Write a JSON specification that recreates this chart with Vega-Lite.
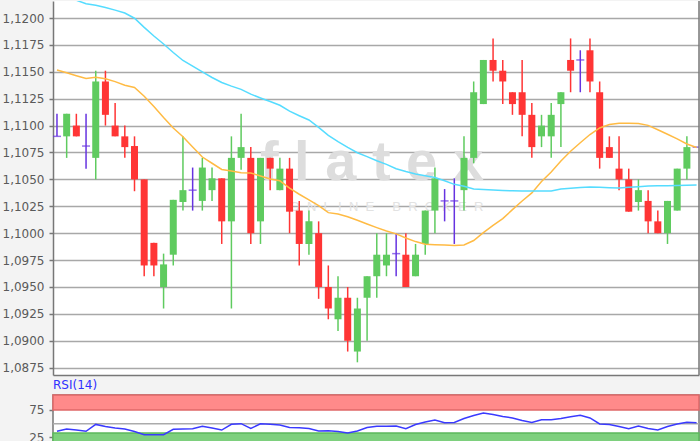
{
  "$schema": "https://vega.github.io/schema/vega-lite/v6.json",
  "padding": 0,
  "background": "#f3f3f3",
  "spacing": 2,
  "config": {
    "view": {"fill": "white", "stroke": "#777777", "strokeWidth": 1.5},
    "scale": {"continuousPadding": 0},
    "axis": {"labelFont": "DejaVu Sans", "labelFontSize": 12, "labelColor": "#5a5a5a", "domainColor": "#777777", "domainWidth": 1.5, "tickColor": "#777777", "tickWidth": 1.5, "tickSize": 4, "labelPadding": 5, "gridColor": "#a8a8a8", "gridWidth": 1.5, "title": null, "labelOverlap": false},
    "axisX": {"labels": false, "ticks": false, "grid": false, "domain": true, "minExtent": 0, "maxExtent": 0}
  },
  "datasets": {
    "c": [
      {"i":1,"o":1.1090,"h":1.1111,"l":1.1090,"c":1.1090,"rsi":36.2,"m20":1.11517,"m50":null},
      {"i":2,"o":1.1090,"h":1.1111,"l":1.1070,"c":1.1111,"rsi":40.5,"m20":1.11491,"m50":null},
      {"i":3,"o":1.1100,"h":1.1111,"l":1.1090,"c":1.1090,"rsi":38.5,"m20":1.11464,"m50":1.12165},
      {"i":4,"o":1.1081,"h":1.1111,"l":1.1060,"c":1.1081,"rsi":36.2,"m20":1.11438,"m50":1.12133},
      {"i":5,"o":1.1070,"h":1.1151,"l":1.1050,"c":1.1141,"rsi":48.7,"m20":1.11449,"m50":1.12119},
      {"i":6,"o":1.1141,"h":1.1151,"l":1.1100,"c":1.1110,"rsi":44.9,"m20":1.11436,"m50":1.12098},
      {"i":7,"o":1.1100,"h":1.1121,"l":1.1090,"c":1.1090,"rsi":42.2,"m20":1.11409,"m50":1.12073},
      {"i":8,"o":1.1090,"h":1.1100,"l":1.1070,"c":1.1080,"rsi":40.4,"m20":1.11375,"m50":1.12046},
      {"i":9,"o":1.1081,"h":1.1090,"l":1.1039,"c":1.1050,"rsi":35.8,"m20":1.11354,"m50":1.11998},
      {"i":10,"o":1.1050,"h":1.1050,"l":1.0960,"c":1.0970,"rsi":30.0,"m20":1.11273,"m50":1.11913},
      {"i":11,"o":1.0991,"h":1.0991,"l":1.0960,"c":1.0970,"rsi":30.0,"m20":1.11177,"m50":1.11833},
      {"i":12,"o":1.0950,"h":1.0981,"l":1.0930,"c":1.0971,"rsi":30.0,"m20":1.11075,"m50":1.11758},
      {"i":13,"o":1.0980,"h":1.1031,"l":1.0970,"c":1.1031,"rsi":39.8,"m20":1.10978,"m50":1.11679},
      {"i":14,"o":1.1029,"h":1.1090,"l":1.1021,"c":1.1040,"rsi":40.4,"m20":1.10896,"m50":1.11605},
      {"i":15,"o":1.1040,"h":1.1061,"l":1.1021,"c":1.1040,"rsi":40.9,"m20":1.10801,"m50":1.11552},
      {"i":16,"o":1.1030,"h":1.1070,"l":1.1021,"c":1.1061,"rsi":45.5,"m20":1.10708,"m50":1.11500},
      {"i":17,"o":1.1040,"h":1.1061,"l":1.1030,"c":1.1051,"rsi":42.2,"m20":1.10650,"m50":1.11447},
      {"i":18,"o":1.1051,"h":1.1051,"l":1.0990,"c":1.1011,"rsi":38.5,"m20":1.10592,"m50":1.11401},
      {"i":19,"o":1.1011,"h":1.1090,"l":1.0930,"c":1.1070,"rsi":48.9,"m20":1.10578,"m50":1.11367},
      {"i":20,"o":1.1070,"h":1.1111,"l":1.1059,"c":1.1080,"rsi":50.0,"m20":1.10562,"m50":1.11337},
      {"i":21,"o":1.1070,"h":1.1080,"l":1.0990,"c":1.1000,"rsi":41.3,"m20":1.10560,"m50":1.11292},
      {"i":22,"o":1.1011,"h":1.1070,"l":1.0990,"c":1.1070,"rsi":49.8,"m20":1.10532,"m50":1.11257},
      {"i":23,"o":1.1070,"h":1.1070,"l":1.1040,"c":1.1060,"rsi":48.9,"m20":1.10504,"m50":1.11224},
      {"i":24,"o":1.1040,"h":1.1070,"l":1.1040,"c":1.1060,"rsi":47.6,"m20":1.10487,"m50":1.11189},
      {"i":25,"o":1.1060,"h":1.1070,"l":1.1000,"c":1.1020,"rsi":43.3,"m20":1.10418,"m50":1.11134},
      {"i":26,"o":1.1021,"h":1.1030,"l":1.0970,"c":1.0990,"rsi":42.5,"m20":1.10362,"m50":1.11092},
      {"i":27,"o":1.0990,"h":1.1021,"l":1.0980,"c":1.1011,"rsi":41.3,"m20":1.10310,"m50":1.11052},
      {"i":28,"o":1.1000,"h":1.1011,"l":1.0939,"c":1.0950,"rsi":36.7,"m20":1.10256,"m50":1.10984},
      {"i":29,"o":1.0950,"h":1.0970,"l":1.0920,"c":1.0930,"rsi":37.3,"m20":1.10191,"m50":1.10910},
      {"i":30,"o":1.0920,"h":1.0960,"l":1.0909,"c":1.0940,"rsi":35.8,"m20":1.10178,"m50":1.10850},
      {"i":31,"o":1.0940,"h":1.0950,"l":1.0890,"c":1.0900,"rsi":33.1,"m20":1.10153,"m50":1.10797},
      {"i":32,"o":1.0890,"h":1.0940,"l":1.0880,"c":1.0930,"rsi":36.7,"m20":1.10120,"m50":1.10748},
      {"i":33,"o":1.0940,"h":1.0960,"l":1.0900,"c":1.0960,"rsi":43.1,"m20":1.10086,"m50":1.10712},
      {"i":34,"o":1.0960,"h":1.1000,"l":1.0940,"c":1.0980,"rsi":45.3,"m20":1.10052,"m50":1.10673},
      {"i":35,"o":1.0970,"h":1.1000,"l":1.0960,"c":1.0980,"rsi":45.5,"m20":1.10020,"m50":1.10640},
      {"i":36,"o":1.0981,"h":1.1000,"l":1.0960,"c":1.0981,"rsi":45.8,"m20":1.09994,"m50":1.10599},
      {"i":37,"o":1.0980,"h":1.1000,"l":1.0950,"c":1.0950,"rsi":40.9,"m20":1.09955,"m50":1.10573},
      {"i":38,"o":1.0960,"h":1.0990,"l":1.0960,"c":1.0980,"rsi":48.5,"m20":1.09922,"m50":1.10550},
      {"i":39,"o":1.0990,"h":1.1021,"l":1.0980,"c":1.1021,"rsi":53.1,"m20":1.09897,"m50":1.10533},
      {"i":40,"o":1.1021,"h":1.1061,"l":1.1000,"c":1.1051,"rsi":56.7,"m20":1.09893,"m50":1.10518},
      {"i":41,"o":1.1030,"h":1.1041,"l":1.1011,"c":1.1030,"rsi":51.8,"m20":1.09890,"m50":1.10487},
      {"i":42,"o":1.1030,"h":1.1051,"l":1.0990,"c":1.1030,"rsi":52.2,"m20":1.09885,"m50":1.10454},
      {"i":43,"o":1.1040,"h":1.1090,"l":1.1021,"c":1.1070,"rsi":59.5,"m20":1.09890,"m50":1.10436},
      {"i":44,"o":1.1070,"h":1.1141,"l":1.1065,"c":1.1131,"rsi":64.9,"m20":1.09932,"m50":1.10411},
      {"i":45,"o":1.1120,"h":1.1161,"l":1.1120,"c":1.1161,"rsi":69.5,"m20":1.10005,"m50":1.10406},
      {"i":46,"o":1.1161,"h":1.1181,"l":1.1141,"c":1.1151,"rsi":66.7,"m20":1.10073,"m50":1.10401},
      {"i":47,"o":1.1151,"h":1.1161,"l":1.1120,"c":1.1141,"rsi":63.1,"m20":1.10135,"m50":1.10397},
      {"i":48,"o":1.1131,"h":1.1131,"l":1.1110,"c":1.1120,"rsi":60.4,"m20":1.10219,"m50":1.10394},
      {"i":49,"o":1.1131,"h":1.1161,"l":1.1090,"c":1.1110,"rsi":55.8,"m20":1.10299,"m50":1.10392},
      {"i":50,"o":1.1110,"h":1.1121,"l":1.1070,"c":1.1080,"rsi":52.2,"m20":1.10374,"m50":1.10392},
      {"i":51,"o":1.1090,"h":1.1110,"l":1.1080,"c":1.1100,"rsi":57.3,"m20":1.10481,"m50":1.10392},
      {"i":52,"o":1.1090,"h":1.1121,"l":1.1070,"c":1.1110,"rsi":57.3,"m20":1.10569,"m50":1.10392},
      {"i":53,"o":1.1120,"h":1.1131,"l":1.1080,"c":1.1131,"rsi":59.5,"m20":1.10671,"m50":1.10411},
      {"i":54,"o":1.1161,"h":1.1181,"l":1.1131,"c":1.1151,"rsi":62.7,"m20":1.10761,"m50":1.10417},
      {"i":55,"o":1.1161,"h":1.1170,"l":1.1131,"c":1.1161,"rsi":65.3,"m20":1.10840,"m50":1.10424},
      {"i":56,"o":1.1170,"h":1.1181,"l":1.1131,"c":1.1141,"rsi":60.4,"m20":1.10917,"m50":1.10429},
      {"i":57,"o":1.1131,"h":1.1141,"l":1.1060,"c":1.1070,"rsi":49.5,"m20":1.10978,"m50":1.10427},
      {"i":58,"o":1.1080,"h":1.1090,"l":1.1070,"c":1.1070,"rsi":48.4,"m20":1.11010,"m50":1.10423},
      {"i":59,"o":1.1060,"h":1.1090,"l":1.1040,"c":1.1050,"rsi":44.9,"m20":1.11021,"m50":1.10420},
      {"i":60,"o":1.1050,"h":1.1060,"l":1.1020,"c":1.1020,"rsi":40.9,"m20":1.11021,"m50":1.10427},
      {"i":61,"o":1.1029,"h":1.1050,"l":1.1021,"c":1.1040,"rsi":45.8,"m20":1.11020,"m50":1.10432},
      {"i":62,"o":1.1030,"h":1.1040,"l":1.1000,"c":1.1011,"rsi":41.3,"m20":1.11002,"m50":1.10439},
      {"i":63,"o":1.1011,"h":1.1021,"l":1.1000,"c":1.1000,"rsi":38.5,"m20":1.10961,"m50":1.10441},
      {"i":64,"o":1.1000,"h":1.1030,"l":1.0990,"c":1.1030,"rsi":44.9,"m20":1.10920,"m50":1.10442},
      {"i":65,"o":1.1021,"h":1.1060,"l":1.1021,"c":1.1060,"rsi":49.5,"m20":1.10876,"m50":1.10444},
      {"i":66,"o":1.1060,"h":1.1090,"l":1.1050,"c":1.1080,"rsi":52.7,"m20":1.10829,"m50":1.10446},
      {"i":67,"o":1.1080,"h":1.1080,"l":1.1080,"c":1.1080,"rsi":51.8,"m20":1.10796,"m50":1.10448}
    ]
  },
  "vconcat": [
    {
      "width": 646,
      "height": 374,
      "view": {"stroke": null},
      "data": {"name": "c"},
      "layer": [
        {
          "data": {"values": [{}]},
          "mark": {"type": "text", "text": "f\u00a0l\u00a0a\u00a0t\u00a0e\u00a0x", "font": "Liberation Sans", "fontWeight": "bold", "fontSize": 56, "color": "#dddddd", "align": "center", "baseline": "alphabetic"},
          "encoding": {
            "x": {"datum": 33.5, "type": "quantitative", "scale": {"domain": [0.59, 67.25], "nice": false, "zero": false, "padding": 0}},
            "y": {"datum": 1.1049, "type": "quantitative", "scale": {"domain": [1.08682, 1.12158], "nice": false, "zero": false, "padding": 0}, "axis": {"orient": "left", "values": [1.0875, 1.09, 1.0925, 1.095, 1.0975, 1.1, 1.1025, 1.105, 1.1075, 1.11, 1.1125, 1.115, 1.1175, 1.12], "tickCount": 30, "labelExpr": "replace(format(datum.value, '.4f'), '.', ',')", "labelOverlap": false, "grid": true, "domain": true, "ticks": true, "minExtent": 52, "maxExtent": 52}}
          }
        },
        {
          "data": {"values": [{}]},
          "mark": {"type": "text", "text": "O\u00a0\u00a0N\u00a0\u00a0L\u00a0\u00a0I\u00a0\u00a0N\u00a0\u00a0E\u00a0\u00a0\u00a0\u00a0\u00a0B\u00a0\u00a0R\u00a0\u00a0O\u00a0\u00a0K\u00a0\u00a0E\u00a0\u00a0R", "font": "Liberation Sans", "fontSize": 13, "color": "#e2e2e2", "align": "center", "baseline": "alphabetic"},
          "encoding": {
            "x": {"datum": 35.0, "type": "quantitative"},
            "y": {"datum": 1.1021, "type": "quantitative"}
          }
        },
        {
          "mark": {"type": "rule", "strokeWidth": 1.5, "clip": true},
          "encoding": {
            "x": {"field": "i", "type": "quantitative"},
            "y": {"field": "l", "type": "quantitative"},
            "y2": {"field": "h"},
            "color": {"condition": [{"test": "datum.c > datum.o", "value": "#5fcb5f"}, {"test": "datum.c < datum.o", "value": "#ff3535"}], "value": "#6633e0"}
          }
        },
        {
          "transform": [{"filter": "datum.o != datum.c"}],
          "mark": {"type": "bar", "width": 7, "clip": true},
          "encoding": {
            "x": {"field": "i", "type": "quantitative"},
            "y": {"field": "o", "type": "quantitative"},
            "y2": {"field": "c"},
            "color": {"condition": [{"test": "datum.c > datum.o", "value": "#5fcb5f"}], "value": "#ff3535"}
          }
        },
        {
          "transform": [{"filter": "datum.o == datum.c"}],
          "mark": {"type": "tick", "orient": "horizontal", "size": 8, "thickness": 1.5, "color": "#6633e0", "clip": true},
          "encoding": {
            "x": {"field": "i", "type": "quantitative"},
            "y": {"field": "c", "type": "quantitative"}
          }
        },
        {
          "mark": {"type": "line", "color": "#ffbb44", "strokeWidth": 1.5, "clip": true},
          "encoding": {
            "x": {"field": "i", "type": "quantitative"},
            "y": {"field": "m20", "type": "quantitative"}
          }
        },
        {
          "mark": {"type": "line", "color": "#55dcff", "strokeWidth": 1.5, "clip": true},
          "encoding": {
            "x": {"field": "i", "type": "quantitative"},
            "y": {"field": "m50", "type": "quantitative"}
          }
        },
        {
          "data": {"values": [{}]},
          "mark": {"type": "rule", "color": "#777777", "strokeWidth": 1.5},
          "encoding": {
            "x": {"datum": 67.25, "type": "quantitative"},
            "y": {"datum": 1.08682, "type": "quantitative"},
            "y2": {"datum": 1.12158}
          }
        }
      ]
    },
    {
      "width": 646,
      "height": 48,
      "title": {"text": "RSI(14)", "anchor": "start", "frame": "group", "font": "DejaVu Sans", "fontSize": 12, "fontWeight": "normal", "color": "#3030ff", "offset": 2},
      "view": {"stroke": "#777777"},
      "layer": [
        {
          "data": {"values": [{}]},
          "mark": {"type": "rect", "fill": "#ff8a8a", "stroke": "#e06868", "strokeWidth": 1.5},
          "encoding": {
            "y": {"datum": 75, "type": "quantitative", "scale": {"domain": [14.9, 102.2], "nice": false, "zero": false}, "axis": {"values": [25, 75], "grid": false, "domain": false, "ticks": true, "minExtent": 52, "maxExtent": 52}},
            "y2": {"datum": 102.2}
          }
        },
        {
          "data": {"values": [{}]},
          "mark": {"type": "rect", "fill": "#7ed07e", "stroke": "#5cb85c", "strokeWidth": 1.5},
          "encoding": {
            "y": {"datum": 14.9, "type": "quantitative"},
            "y2": {"datum": 33}
          }
        },
        {
          "data": {"values": [{}]},
          "mark": {"type": "rule", "color": "#ababab", "strokeWidth": 1.5},
          "encoding": {
            "y": {"datum": 50, "type": "quantitative"}
          }
        },
        {
          "data": {"name": "c"},
          "mark": {"type": "line", "color": "#3a3aff", "strokeWidth": 1.5, "clip": true},
          "encoding": {
            "x": {"field": "i", "type": "quantitative", "scale": {"domain": [0.59, 67.25], "nice": false, "zero": false, "padding": 0}, "axis": null},
            "y": {"field": "rsi", "type": "quantitative"}
          }
        }
      ]
    }
  ]
}
